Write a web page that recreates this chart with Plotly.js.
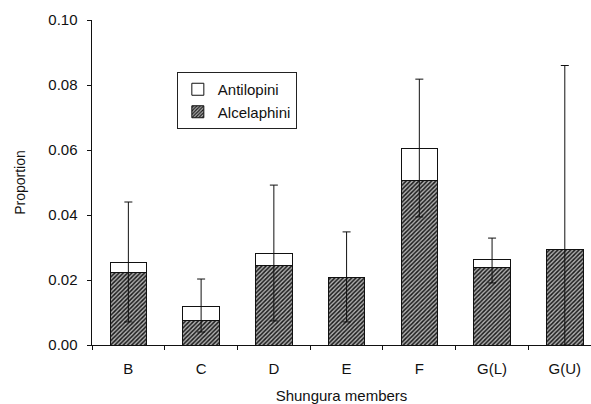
<!DOCTYPE html>
<html><head><meta charset="utf-8">
<script src="https://cdn.plot.ly/plotly-3.0.1.min.js"></script>
<style>html,body{margin:0;padding:0;background:#fff}#chart{width:591px;height:404px}</style>
</head><body><div id="chart"></div>
<script>
var members = ["B", "C", "D", "E", "F", "G(L)", "G(U)"];
var alcelaphini = [0.0222, 0.0074, 0.0246, 0.0209, 0.0505, 0.0240, 0.0295];
var antilopini = [0.0033, 0.0046, 0.0037, 0.0000, 0.0101, 0.0022, 0.0000];
var errPlus = [0.0185, 0.0083, 0.0209, 0.0139, 0.0212, 0.0067, 0.0565];
var errMinus = [0.0184, 0.0080, 0.0209, 0.0138, 0.0212, 0.0071, 0.0295];

var totals = alcelaphini.map(function(v, i){ return v + antilopini[i]; });

var font = "Liberation Sans, Arial, sans-serif";
var data = [
  {type: "bar", name: "Alcelaphini", x: members, y: alcelaphini, width: 0.5,
   marker: {color: "#9a9a9a", line: {color: "#111", width: 1},
            pattern: {shape: "/", size: 3, solidity: 0.5, fgcolor: "#1a1a1a", bgcolor: "#b0b0b0"}}},
  {type: "bar", name: "Antilopini", x: members, y: antilopini, width: 0.5,
   marker: {color: "#ffffff", line: {color: "#111", width: 1}}},
  {type: "scatter", mode: "none", x: members, y: totals, showlegend: false, hoverinfo: "skip",
   error_y: {type: "data", array: errPlus, arrayminus: errMinus, symmetric: false,
             color: "#111", thickness: 1, width: 4}}
];

var layout = {
  width: 591, height: 404,
  margin: {l: 92, r: 0, t: 20, b: 59},
  paper_bgcolor: "#fff", plot_bgcolor: "#fff",
  barmode: "stack",
  font: {family: font, size: 15, color: "#111"},
  showlegend: true,
  legend: {x: 0.17, y: 0.84, xanchor: "left", yanchor: "top", traceorder: "reversed",
           bgcolor: "#fff", bordercolor: "#222", borderwidth: 1,
           font: {family: font, size: 15, color: "#111"}, itemwidth: 30, tracegroupgap: 0},
  xaxis: {type: "category", range: [-0.5, 6.36], showline: true, linecolor: "#111", linewidth: 1,
          ticks: "outside", tickson: "boundaries", ticklen: 4, tickcolor: "#111",
          ticklabelstandoff: 10, automargin: false,
          showgrid: false, zeroline: false, tickfont: {size: 15},
          title: {text: "Shungura members", font: {size: 15}, standoff: 20}},
  yaxis: {range: [0, 0.10], dtick: 0.02, tickformat: ".2f", showline: true, linecolor: "#111", linewidth: 1.5,
          ticks: "outside", ticklen: 4, tickcolor: "#111", showgrid: false, zeroline: false,
          ticklabelstandoff: 6, automargin: false,
          tickfont: {size: 15},
          title: {text: "Proportion", font: {size: 14}, standoff: 19}}
};

Plotly.newPlot("chart", data, layout, {displayModeBar: false, staticPlot: true});
</script>
</body></html>
